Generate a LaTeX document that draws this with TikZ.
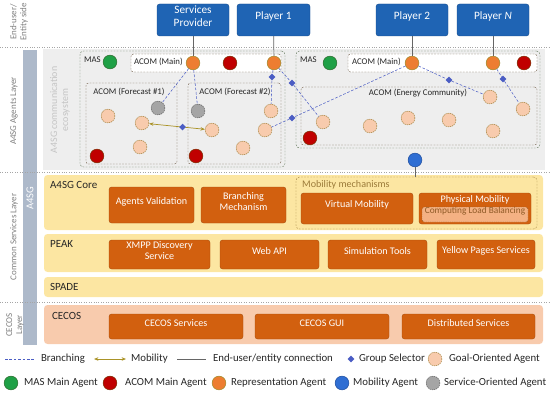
\documentclass[tikz,border=0pt]{standalone}
\usepackage{fontspec}
\setmainfont{Carlito}
\usetikzlibrary{arrows.meta,positioning,fit,shapes.geometric}

\definecolor{playerblue}{HTML}{1F64B4}
\definecolor{playeredge}{HTML}{184C8A}
\definecolor{svcorange}{HTML}{D2600F}
\definecolor{svcedge}{HTML}{A94C0B}
\definecolor{bandyellow}{HTML}{FCE6A2}
\definecolor{cecospink}{HTML}{F8CBAD}
\definecolor{loadfill}{HTML}{F4B183}
\definecolor{loadedge}{HTML}{8F5A26}
\definecolor{agentbg}{HTML}{EEEEEE}
\definecolor{barblue}{HTML}{ADB9CA}
\definecolor{goalfill}{HTML}{F8CBAD}
\definecolor{goaledge}{HTML}{A0803A}
\definecolor{repfill}{HTML}{ED7D31}
\definecolor{repedge}{HTML}{A08C2C}
\definecolor{acomred}{HTML}{C00000}
\definecolor{acomedge}{HTML}{7B2E00}
\definecolor{masgreen}{HTML}{1FA046}
\definecolor{masedge}{HTML}{2E6B2E}
\definecolor{mobblue}{HTML}{2F6ED3}
\definecolor{mobedge}{HTML}{1F4E9E}
\definecolor{servgray}{HTML}{A5A5A5}
\definecolor{servedge}{HTML}{606060}
\definecolor{branchblue}{HTML}{4B5DC4}
\definecolor{mobolive}{HTML}{AA9328}
\definecolor{mechbrown}{HTML}{9C7B3A}
\definecolor{sidegray}{HTML}{7F7F7F}
\definecolor{ecogray}{HTML}{C4C4C4}
\definecolor{masline}{HTML}{5A7052}
\definecolor{acomline}{HTML}{6E5A44}
\definecolor{txt}{HTML}{262626}

\begin{document}
\begin{tikzpicture}[x=0.04cm,y=-0.04cm,
  every node/.style={text=txt},
  player/.style={draw=playeredge,fill=playerblue,rounded corners=3pt,inner sep=0pt,
    text=white,align=center,font=\fontsize{12.8}{14}\selectfont},
  svc/.style={draw=svcedge,fill=svcorange,rounded corners=3pt,inner sep=0pt,
    text=white,align=center,font=\fontsize{11.5}{12.5}\selectfont},
  band/.style={rounded corners=4pt,inner sep=0pt},
  bandlabel/.style={anchor=west,font=\fontsize{12.5}{13}\selectfont},
  sidelabel/.style={rotate=90,text=sidegray,align=center,font=\fontsize{10.2}{11.5}\selectfont},
  container/.style={draw=masline,dash pattern=on 2pt off 1.5pt,rounded corners=4pt,inner sep=0pt},
  acombox/.style={draw=acomline,dash pattern=on 2pt off 1.5pt,rounded corners=3pt,inner sep=0pt},
  agentlabel/.style={font=\fontsize{10}{11}\selectfont},
  agent/.style={circle,minimum size=0.55cm,inner sep=0pt,line width=0.6pt},
  goal/.style={agent,fill=goalfill,draw=goaledge,dash pattern=on 1.5pt off 1pt},
  servor/.style={agent,fill=servgray,draw=servedge,dash pattern=on 1.5pt off 1pt},
  repr/.style={agent,fill=repfill,draw=repedge},
  acommain/.style={agent,fill=acomred,draw=acomedge},
  masmain/.style={agent,fill=masgreen,draw=masedge},
  mobag/.style={agent,fill=mobblue,draw=mobedge},
  selector/.style={diamond,fill=branchblue,minimum size=0.28cm,inner sep=0pt},
  branch/.style={draw=branchblue,dash pattern=on 3pt off 2pt,semithick},
  mobility/.style={draw=mobolive,thick,{Stealth[length=5pt,width=4pt]}-{Stealth[length=5pt,width=4pt]}},
  enduser/.style={draw=gray!80!black,thick},
  legend/.style={anchor=west,font=\fontsize{12.3}{13}\selectfont},
  layerline/.style={draw=gray!70,dotted,thick},
]
  \useasboundingbox (0,0) rectangle (550,394);

  % ---- End-user / entity side ----
  \node[sidelabel] (euside) at (19,22) {End-user/\\Entity side};
  \node[player,fit={(157,4) (229,36)}] (sp) {Services\\Provider};
  \node[player,fit={(237,4) (310,36)}] (pl1) {Player 1};
  \node[player,fit={(376,4) (448,36)}] (pl2) {Player 2};
  \node[player,fit={(457,4) (529,36)}] (pln) {Player \textit{N}};
  \draw[layerline] (0,47) -- (550,47);

  % ---- A4SG agents layer (background, side bar, labels) ----
  \fill[agentbg] (43,49) rectangle (545,170);
  \fill[barblue] (23,50) rectangle (37,345);
  \node[rotate=90,text=white,font=\fontsize{12}{13}\selectfont] (a4sg) at (30,198) {A4SG};
  \node[sidelabel] (aglayer) at (14,111) {A4SG Agents Layer};
  \node[sidelabel,text=ecogray,font=\fontsize{11.3}{12.5}\selectfont] (eco) at (60,110) {A4SG communication\\ecosystem};

  % left MAS with its ACOMs
  \node[container,fit={(80,51) (285,167)}] (mas1) {};
  \node[acombox,fill=white,fit={(131,54) (281,72)}] (acm1) {};
  \node[acombox,fit={(86,83) (177,164)}] (fc1) {};
  \node[acombox,fit={(188,83) (281,164)}] (fc2) {};
  \node[agentlabel,anchor=west] (mas1lbl) at (81,60) {MAS};
  \node[agentlabel,anchor=west] (acm1lbl) at (131,62) {ACOM (Main)};
  \node[agentlabel] (fc1lbl) at (129,92) {ACOM (Forecast \#1)};
  \node[agentlabel] (fc2lbl) at (235,92) {ACOM (Forecast \#2)};

  % right MAS with its ACOMs
  \node[container,fit={(296,51) (540,148)}] (mas2) {};
  \node[acombox,fill=white,fit={(348,54) (537,72)}] (acm2) {};
  \node[acombox,fit={(301,87) (537,145)}] (ec) {};
  \node[agentlabel,anchor=west] (mas2lbl) at (297,60) {MAS};
  \node[agentlabel,anchor=west] (acm2lbl) at (349,62) {ACOM (Main)};
  \node[agentlabel] (eclbl) at (418,93) {ACOM (Energy Community)};

  % ---- common services layer ----
  \draw[layerline] (0,172) -- (550,172);
  \node[band,fill=bandyellow,fit={(44,175) (543,230)}] (core) {};
  \node[bandlabel] (corelbl) at (47,185) {A4SG Core};
  \node[svc,fit={(109,187) (194,223)}] (valid) {Agents Validation};
  \node[svc,fit={(201,187) (286,223)}] (brmech) {Branching\\Mechanism};
  \node[draw=mechbrown,dash pattern=on 2pt off 1.5pt,rounded corners=4pt,inner sep=0pt,
    fit={(296,177) (537,229)}] (mobmech) {};
  \node[anchor=west,text=mechbrown,font=\fontsize{11.5}{12}\selectfont] (mobmechlbl) at (299,185) {Mobility mechanisms};
  \node[svc,fit={(301,193) (413,224)}] (virt) {Virtual Mobility};
  \node[svc,fit={(419,193) (531,224)}] (phys) {};
  \node[text=white,font=\fontsize{11.5}{12}\selectfont] (physlbl) at (475,200) {Physical Mobility};
  \node[draw=loadedge,dash pattern=on 1.5pt off 1pt,fill=loadfill,rounded corners=2pt,inner sep=0pt,
    text=loadedge,font=\fontsize{10.6}{11}\selectfont,fit={(422,207) (528,222)}] (loadbal) {Computing Load Balancing};

  \node[band,fill=bandyellow,fit={(44,234) (543,272)}] (peak) {};
  \node[bandlabel] (peaklbl) at (47,244) {PEAK};
  \node[svc,fit={(109,240) (210,269)}] (xmpp) {XMPP Discovery\\Service};
  \node[svc,fit={(220,240) (319,269)}] (webapi) {Web API};
  \node[svc,fit={(328,240) (427,269)}] (simtools) {Simulation Tools};
  \node[svc,fit={(437,240) (535,269)}] (yellowp) {Yellow Pages Services};

  \node[band,fill=bandyellow,fit={(44,277) (543,297)}] (spade) {};
  \node[bandlabel] (spadelbl) at (47,287) {SPADE};
  \node[sidelabel] (cslayer) at (14,237) {Common Services Layer};

  % ---- CECOS layer ----
  \draw[layerline] (0,302) -- (550,302);
  \node[band,fill=cecospink,fit={(44,305) (543,344)}] (cecos) {};
  \node[bandlabel] (cecoslbl) at (49,316) {CECOS};
  \node[svc,fit={(109,314) (243,339)}] (cserv) {CECOS Services};
  \node[svc,fit={(255,314) (389,339)}] (cgui) {CECOS GUI};
  \node[svc,fit={(402,314) (535,339)}] (dserv) {Distributed Services};
  \node[sidelabel] (celayer) at (15,325) {CECOS\\Layer};

  % ---- agents ----
  \node[masmain] (mm1) at (110,62) {};
  \node[repr] (rep1) at (193,63) {};
  \node[acommain] (am1) at (230,63) {};
  \node[repr] (rep2) at (274,63) {};
  % Forecast #1
  \node[servor] (so1) at (158,108) {};
  \node[goal] (g1) at (108,116) {};
  \node[goal] (g2) at (142,123) {};
  \node[goal] (g3) at (140,147) {};
  \node[acommain] (am2) at (97,156) {};
  % Forecast #2
  \node[servor] (so2) at (198,111) {};
  \node[goal] (g4) at (212,130) {};
  \node[goal] (g5) at (243,148) {};
  \node[acommain] (am3) at (196,156) {};
  \node[goal] (g6) at (271,111) {};
  \node[goal] (g7) at (265,130) {};
  % right MAS
  \node[masmain] (mm2) at (330,63) {};
  \node[repr] (rep3) at (412,63) {};
  \node[repr] (rep4) at (493,63) {};
  \node[acommain] (am4) at (524,63) {};
  \node[goal] (g8) at (323,122) {};
  \node[goal] (g9) at (370,126) {};
  \node[goal] (g10) at (408,118) {};
  \node[goal] (g11) at (449,120) {};
  \node[goal] (g12) at (490,97) {};
  \node[goal] (g13) at (523,109) {};
  \node[goal] (g14) at (493,131) {};
  \node[acommain] (am5) at (310,138) {};
  \node[mobag] (mob) at (415,160) {};

  % group selectors
  \node[selector] (gs1) at (272,77) {};
  \node[selector] (gs2) at (292,83) {};
  \node[selector] (gs3) at (292,118) {};
  \node[selector] (gs4) at (449,80) {};
  \node[selector] (gs5) at (503,79) {};

  % ---- connections ----
  \draw[enduser] (sp) -- (rep1);
  \draw[enduser] (pl1) -- (rep2);
  \draw[enduser] (pl2) -- (rep3);
  \draw[enduser] (pln) -- (rep4);
  \draw[enduser] (mob) -- (mob |- mobmech.north);
  \draw[branch] (rep1) -- (so1);
  \draw[branch] (rep1) -- (so2);
  \draw[branch] (rep2) -- (gs1) -- (g6);
  \draw[branch] (rep2) -- (gs2) -- (g8);
  \draw[branch] (rep3) -- (gs3) -- (g7);
  \draw[branch] (rep3) -- (gs4) -- (g12);
  \draw[branch] (rep4) -- (gs5) -- (g13);
  \draw[mobility] (g2) -- node[selector,pos=0.6] (gs0) {} (g4);

  % ---- legend ----
  \coordinate (lgb1) at (5,359);
  \coordinate (lgb2) at (34,359);
  \draw[branch] (lgb1) -- (lgb2);
  \node[legend] (lgbt) at (38,359) {Branching};
  \coordinate (lgm1) at (94,359);
  \coordinate (lgm2) at (126,359);
  \draw[mobility] (lgm1) -- (lgm2);
  \node[legend] (lgmt) at (128,359) {Mobility};
  \coordinate (lge1) at (177,359);
  \coordinate (lge2) at (206,359);
  \draw[enduser] (lge1) -- (lge2);
  \node[legend] (lget) at (210,359) {End-user/entity connection};
  \node[selector] (lgs) at (351,359) {};
  \node[legend] (lgst) at (356,359) {Group Selector};
  \node[goal] (lgg) at (435,359) {};
  \node[legend] (lggt) at (446,359) {Goal-Oriented Agent};

  \node[masmain] (lgma) at (11,383) {};
  \node[legend] (lgmat) at (21,383) {MAS Main Agent};
  \node[acommain] (lgam) at (110,383) {};
  \node[legend] (lgamt) at (122,383) {ACOM Main Agent};
  \node[repr] (lgrp) at (219,383) {};
  \node[legend] (lgrpt) at (228,383) {Representation Agent};
  \node[mobag] (lgmo) at (342,383) {};
  \node[legend] (lgmot) at (350,383) {Mobility Agent};
  \node[servor] (lgso) at (433,383) {};
  \node[legend] (lgsot) at (441,383) {Service-Oriented Agent};
\end{tikzpicture}
\end{document}
